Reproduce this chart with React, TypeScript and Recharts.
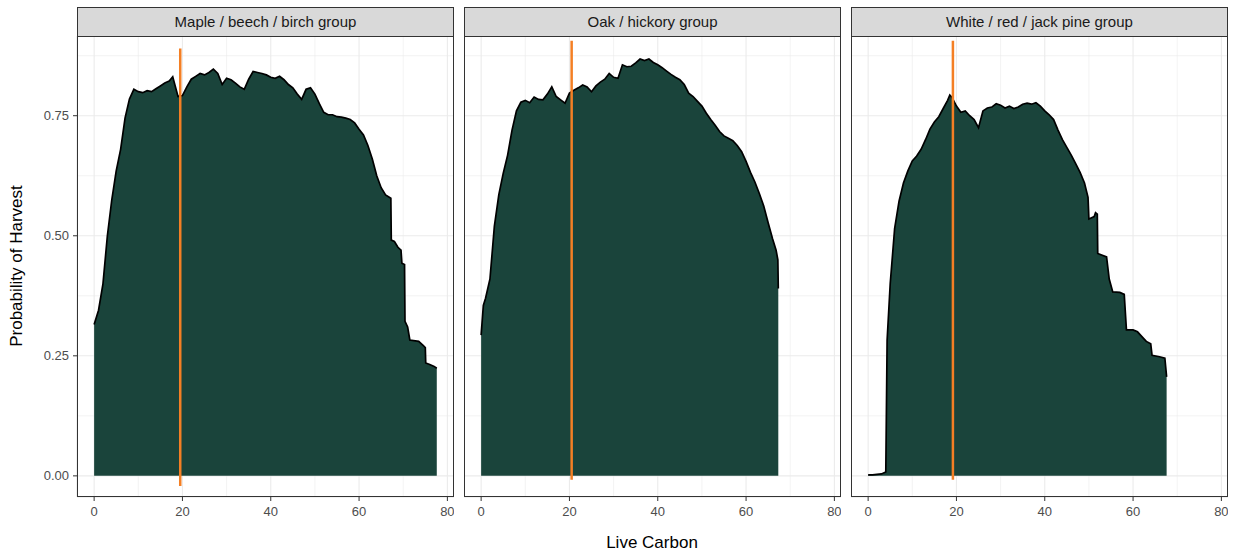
import React from 'react'
import { AreaChart, Area, XAxis, YAxis, CartesianGrid, ReferenceLine } from 'recharts'

const groups = ['Maple / beech / birch group', 'Oak / hickory group', 'White / red / jack pine group']

// live carbon (x) and probability of harvest (y)
const mapleX = [0, 1, 2, 3, 4, 5, 6, 7, 8, 9, 10, 11, 12, 13, 14, 15, 16, 17, 17.8, 19, 20, 21, 22, 23, 24, 25, 26, 27, 28, 29, 30, 31, 32, 33, 34, 35, 36, 37, 38, 39, 40, 41, 42, 43, 44, 45, 46, 47, 48, 49, 50, 51, 52, 53, 54, 55, 56, 57, 58, 59, 60, 61, 62, 63, 64, 65, 66, 67.2, 67.3, 68, 68.8, 69.5, 69.7, 70.3, 70.4, 71, 71.5, 73.5, 74.5, 75, 75.1, 76, 77, 77.6]
const mapleY = [0.315, 0.345, 0.4, 0.5, 0.575, 0.635, 0.68, 0.745, 0.785, 0.805, 0.8, 0.798, 0.802, 0.8, 0.806, 0.812, 0.818, 0.822, 0.831, 0.79, 0.792, 0.81, 0.826, 0.832, 0.838, 0.835, 0.84, 0.847, 0.838, 0.815, 0.828, 0.825, 0.818, 0.81, 0.805, 0.826, 0.842, 0.84, 0.838, 0.835, 0.83, 0.828, 0.832, 0.825, 0.815, 0.808, 0.795, 0.784, 0.805, 0.808, 0.795, 0.775, 0.757, 0.752, 0.752, 0.748, 0.747, 0.745, 0.742, 0.735, 0.722, 0.71, 0.688, 0.66, 0.625, 0.6, 0.585, 0.578, 0.491, 0.488, 0.476, 0.47, 0.443, 0.44, 0.322, 0.31, 0.283, 0.28, 0.272, 0.267, 0.235, 0.232, 0.228, 0.224]

const oakX = [0, 0.5, 1, 2, 3, 4, 5, 6, 7, 8, 9, 10, 11, 12, 13, 14, 15, 16, 17, 18, 19, 20, 21, 22, 23, 24, 25, 26, 27, 28, 29, 30, 31, 32, 33, 34, 35, 36, 37, 38, 39, 40, 41, 42, 43, 44, 45, 46, 47, 48, 49, 50, 51, 52, 53, 54, 55, 56, 57, 58, 59, 60, 61, 62, 63, 64, 65, 66, 66.8, 67.2, 67.3]
const oakY = [0.293, 0.355, 0.37, 0.41, 0.52, 0.585, 0.63, 0.668, 0.72, 0.76, 0.778, 0.782, 0.777, 0.789, 0.784, 0.783, 0.795, 0.81, 0.79, 0.783, 0.776, 0.797, 0.803, 0.808, 0.814, 0.81, 0.8, 0.812, 0.82, 0.826, 0.838, 0.83, 0.828, 0.856, 0.852, 0.853, 0.86, 0.868, 0.865, 0.868, 0.861, 0.856, 0.85, 0.843, 0.836, 0.83, 0.825, 0.815, 0.797, 0.79, 0.78, 0.77, 0.755, 0.742, 0.73, 0.717, 0.708, 0.703, 0.698, 0.688, 0.675, 0.655, 0.632, 0.612, 0.588, 0.562, 0.527, 0.494, 0.47, 0.45, 0.39]

const pineX = [0, 1, 2, 3, 4, 4.3, 5, 6, 7, 8, 9, 10, 11, 12, 13, 14, 15, 16, 17, 18, 18.5, 19, 20, 21, 22, 23, 24, 25, 26, 27, 28, 29, 30, 31, 32, 33, 34, 35, 36, 37, 38, 39, 40, 41, 42, 43, 44, 45, 46, 47, 48, 49, 49.8, 50, 51.2, 51.5, 51.9, 52, 54, 54.6, 55.4, 57, 58, 58.5, 60, 61, 62, 63, 64, 64.3, 66, 67.2, 67.6]
const pineY = [0.002, 0.002, 0.003, 0.004, 0.008, 0.283, 0.4, 0.515, 0.572, 0.61, 0.635, 0.656, 0.666, 0.68, 0.7, 0.722, 0.737, 0.748, 0.765, 0.782, 0.793, 0.788, 0.77, 0.757, 0.76, 0.75, 0.742, 0.725, 0.76, 0.766, 0.768, 0.775, 0.772, 0.766, 0.77, 0.765, 0.768, 0.774, 0.776, 0.774, 0.777, 0.77, 0.76, 0.752, 0.742, 0.72, 0.7, 0.684, 0.668, 0.65, 0.632, 0.61, 0.58, 0.535, 0.54, 0.548, 0.545, 0.463, 0.456, 0.41, 0.383, 0.382, 0.378, 0.304, 0.304, 0.3, 0.29, 0.28, 0.275, 0.251, 0.248, 0.245, 0.206]

// orange marker per group
const cutX = [19.5, 20.5, 19.2]
const cutLow = [-0.021, -0.008, -0.008]
const cutHigh = [0.89, 0.906, 0.906]

const majorX = [0, 20, 40, 60, 80]
const minorX = [10, 30, 50, 70]
const majorY = [0, 0.25, 0.5, 0.75]
const minorY = [0.125, 0.375, 0.625, 0.875]

const seriesX = [mapleX, oakX, pineX]
const seriesY = [mapleY, oakY, pineY]

const font = '"Liberation Sans", Arial, sans-serif'
const panelLeft = [77, 464, 851]
const panelW = 377
const xDomain: [number, number] = [-3.88, 81.5]
const yDomain: [number, number] = [-0.044, 0.916]

function Panel({ idx }: { idx: number }) {
  const left = panelLeft[idx]
  const axisW = idx === 0 ? 77 : 0
  const data = seriesX[idx].map((x, i) => ({ x, p: seriesY[idx][i] }))
  const tickStyle = { fill: '#4d4d4d', fontSize: 13, fontFamily: font }

  return (
    <>
      <div
        style={{
          position: 'absolute', left, top: 7, width: panelW, height: 30,
          boxSizing: 'border-box', border: '1px solid #333333', background: '#d9d9d9',
          color: '#1a1a1a', fontSize: 15, lineHeight: '27px', textAlign: 'center', fontFamily: font
        }}
      >
        {groups[idx]}
      </div>
      <div style={{ position: 'absolute', left: left - axisW, top: 36 }}>
        <AreaChart width={panelW + axisW} height={501} data={data} margin={{ top: 0, right: 0, bottom: 0, left: 0 }}>
          <CartesianGrid stroke="#ebebeb" strokeWidth={1.1} />
          <CartesianGrid xAxisId="minor" yAxisId="minor" stroke="#ebebeb" strokeWidth={0.6} />
          <XAxis
            type="number" dataKey="x" domain={xDomain} ticks={majorX} allowDataOverflow
            axisLine={false} tickSize={4} tickMargin={6} tickLine={{ stroke: '#333333' }}
            tick={tickStyle} height={40} interval={0}
          />
          <XAxis xAxisId="minor" type="number" dataKey="x" domain={xDomain} ticks={minorX} allowDataOverflow hide />
          <YAxis
            type="number" domain={yDomain} ticks={majorY} allowDataOverflow hide={idx !== 0}
            width={axisW} axisLine={false} tickSize={4} tickMargin={4} tickLine={{ stroke: '#333333' }}
            tick={tickStyle} tickFormatter={(v: number) => v.toFixed(2)} interval={0}
          />
          <YAxis yAxisId="minor" type="number" domain={yDomain} ticks={minorY} allowDataOverflow hide />
          <Area
            type="linear" dataKey="p" baseValue={0} stroke="#000000" strokeWidth={1.7}
            fill="#1a443b" fillOpacity={1} isAnimationActive={false} dot={false} activeDot={false}
          />
          <ReferenceLine
            segment={[{ x: cutX[idx], y: cutLow[idx] }, { x: cutX[idx], y: cutHigh[idx] }]}
            stroke="#f47f24" strokeWidth={2.5} ifOverflow="visible"
          />
        </AreaChart>
      </div>
      <div
        style={{
          position: 'absolute', left, top: 36, width: panelW, height: 461,
          boxSizing: 'border-box', border: '1px solid #333333', pointerEvents: 'none'
        }}
      />
    </>
  )
}

export default function App() {
  return (
    <div style={{ position: 'absolute', left: 0, top: 0, width: 1233, height: 555, background: '#ffffff', fontFamily: font }}>
      {groups.map((g, i) => (
        <Panel key={g} idx={i} />
      ))}
      <div
        style={{
          position: 'absolute', left: 17, top: 266, transform: 'translate(-50%, -50%) rotate(-90deg)',
          whiteSpace: 'nowrap', fontSize: 17, color: '#000000'
        }}
      >
        Probability of Harvest
      </div>
      <div
        style={{
          position: 'absolute', left: 652, top: 543, transform: 'translate(-50%, -50%)',
          whiteSpace: 'nowrap', fontSize: 17, color: '#000000'
        }}
      >
        Live Carbon
      </div>
    </div>
  )
}
